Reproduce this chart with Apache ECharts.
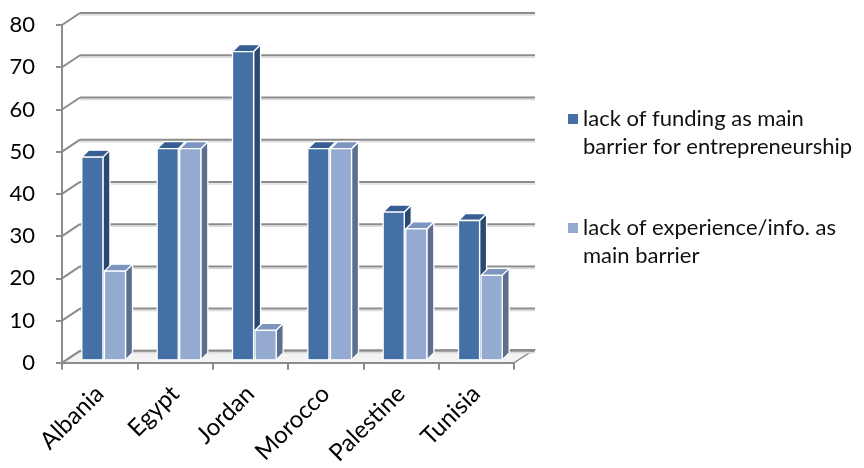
<!DOCTYPE html>
<html>
<head>
<meta charset="utf-8">
<script src="https://cdn.jsdelivr.net/npm/echarts@6/dist/echarts.min.js"></script>
<style>
  html, body { margin: 0; padding: 0; background: #ffffff; }
  #chart { width: 864px; height: 468px; }
</style>
</head>
<body>
<div id="chart"></div>
<script>
// Survey data: main barriers to entrepreneurship by country (%)
const categories = ['Albania', 'Egypt', 'Jordan', 'Morocco', 'Palestine', 'Tunisia'];
const fundingValues = [48, 50, 73, 50, 35, 33];
const experienceValues = [21, 50, 7, 50, 31, 20];
const seriesNames = [
  'lack of funding as main\nbarrier for entrepreneurship',
  'lack of experience/info. as\nmain barrier'
];
const yTicks = [0, 10, 20, 30, 40, 50, 60, 70, 80];

// Oblique projection: offset of the back wall and of each box
const WALL_DX = 18, WALL_DY = 12;
const BAR_OFF_X = 4, BAR_OFF_Y = 3;
const BAR_DX = 7, BAR_DY = 7;
const FONT = 'Lato, "Open Sans", sans-serif';

const palette = [
  { front: '#4470A6', side: '#2B4A72', top: '#385F92' },
  { front: '#95AAD1', side: '#5C6F8F', top: '#7D95BF' }
];

// Floor, side-wall diagonals and back-wall gridlines
function renderWall(params, api) {
  const cs = params.coordSys;
  const y = api.coord([0, api.value(1)])[1];
  const x0 = cs.x, x1 = cs.x + cs.width;
  const children = [];
  if (api.value(1) === 0) {
    children.push({
      type: 'polygon',
      shape: { points: [[x0, y], [x1, y], [x1 + WALL_DX + 2, y - WALL_DY - 1], [x0 + WALL_DX, y - WALL_DY]] },
      style: { fill: '#f3f3f3', stroke: '#8c8c8c', lineWidth: 1.5 }
    });
  }
  children.push({
    type: 'line',
    shape: { x1: x0 + WALL_DX, y1: y - WALL_DY + 2, x2: x1 + WALL_DX + 3, y2: y - WALL_DY + 2 },
    style: { stroke: '#dcdcdc', lineWidth: 1.5 }
  });
  children.push({
    type: 'line',
    shape: { x1: x0, y1: y, x2: x0 + WALL_DX, y2: y - WALL_DY },
    style: { stroke: '#8c8c8c', lineWidth: 2 }
  });
  children.push({
    type: 'line',
    shape: { x1: x0 + WALL_DX, y1: y - WALL_DY, x2: x1 + WALL_DX + 3, y2: y - WALL_DY },
    style: { stroke: '#8c8c8c', lineWidth: 2 }
  });
  return { type: 'group', children: children };
}

// One 3D box per data item: front face, side face and top face
function boxRenderer(seriesIndex) {
  const col = palette[seriesIndex];
  return function (params, api) {
    const idx = api.value(0);
    const base = api.coord([idx, 0]);
    const top = api.coord([idx, api.value(1)]);
    const catW = api.size([1, 0])[0];
    const bw = catW * 0.28;
    const gap = 1.5;
    const left = base[0] + BAR_OFF_X + (seriesIndex === 0 ? -bw - gap / 2 : gap / 2);
    const right = left + bw;
    const yb = base[1] - BAR_OFF_Y;
    const yt = top[1] - BAR_OFF_Y;
    const edge = { stroke: '#ffffff', lineWidth: 1.3, lineJoin: 'round' };
    return {
      type: 'group',
      children: [
        {
          type: 'polygon',
          shape: { points: [[right, yt], [right + BAR_DX, yt - BAR_DY], [right + BAR_DX, yb - BAR_DY], [right, yb]] },
          style: Object.assign({ fill: col.side }, edge)
        },
        {
          type: 'polygon',
          shape: { points: [[left, yt], [left + BAR_DX, yt - BAR_DY], [right + BAR_DX, yt - BAR_DY], [right, yt]] },
          style: Object.assign({ fill: col.top }, edge)
        },
        {
          type: 'rect',
          shape: { x: left, y: yt, width: bw, height: yb - yt },
          style: Object.assign({ fill: col.front }, edge)
        }
      ]
    };
  };
}

const chart = echarts.init(document.getElementById('chart'), null, { renderer: 'canvas' });

chart.setOption({
  animation: false,
  backgroundColor: '#ffffff',
  grid: { left: 62, right: 350, top: 25, bottom: 103, containLabel: false },
  xAxis: {
    type: 'category',
    data: categories,
    boundaryGap: true,
    axisLine: { show: true, lineStyle: { color: '#8c8c8c', width: 2 } },
    axisTick: { show: true, length: 7, interval: 0, lineStyle: { color: '#8c8c8c', width: 2 } },
    axisLabel: { interval: 0, rotate: 45, margin: 27, fontSize: 24, color: '#000000', fontFamily: FONT },
    splitLine: { show: false }
  },
  yAxis: {
    type: 'value',
    min: 0,
    max: 80,
    interval: 10,
    axisLine: { show: true, lineStyle: { color: '#8c8c8c', width: 2 } },
    axisTick: { show: true, length: 6, lineStyle: { color: '#8c8c8c', width: 2 } },
    axisLabel: { margin: 27, fontSize: 22, color: '#000000', fontFamily: FONT },
    splitLine: { show: false }
  },
  legend: {
    orient: 'vertical',
    left: 568,
    top: 77,
    padding: 0,
    itemWidth: 10,
    itemHeight: 10,
    itemGap: 25,
    icon: 'rect',
    selectedMode: false,
    data: seriesNames,
    // a leading blank line keeps the marker level with the first text line
    formatter: function (name) { return '\n' + name; },
    textStyle: { fontSize: 22, lineHeight: 28, color: '#111111', fontFamily: FONT }
  },
  series: [
    {
      type: 'custom',
      name: 'wall',
      silent: true,
      z: 1,
      renderItem: renderWall,
      data: yTicks.map(function (v) { return [0, v]; })
    },
    {
      type: 'custom',
      name: seriesNames[0],
      z: 3,
      itemStyle: { color: palette[0].front },
      renderItem: boxRenderer(0),
      encode: { x: 0, y: 1 },
      data: fundingValues.map(function (v, i) { return [i, v]; })
    },
    {
      type: 'custom',
      name: seriesNames[1],
      z: 4,
      itemStyle: { color: palette[1].front },
      renderItem: boxRenderer(1),
      encode: { x: 0, y: 1 },
      data: experienceValues.map(function (v, i) { return [i, v]; })
    }
  ]
});
</script>
</body>
</html>
